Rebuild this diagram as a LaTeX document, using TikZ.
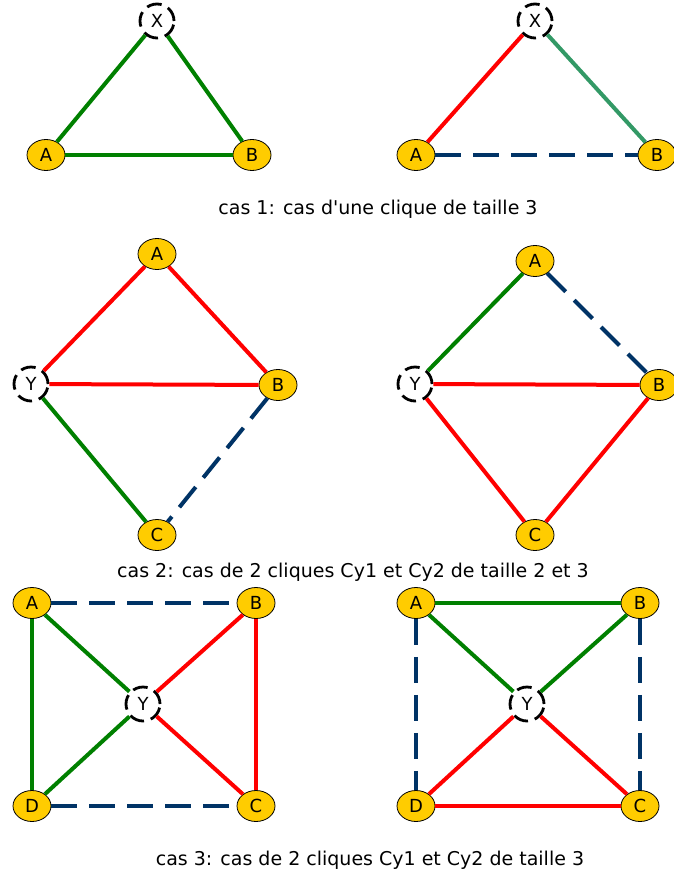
\documentclass[tikz,border=0pt]{standalone}
\usepackage{fontspec}
\setmainfont{DejaVu Sans}
\usepackage{tikz}
\usetikzlibrary{shapes.geometric}

\definecolor{or}{HTML}{FFCC00}
\definecolor{marine}{HTML}{003366}
\definecolor{vertmer}{HTML}{339966}
\definecolor{vertfonce}{HTML}{008000}

\begin{document}
\begin{tikzpicture}[
  x=1pt, y=-1pt,
  sommet/.style={ellipse, draw=black, fill=or, thick, minimum width=38pt, minimum height=31pt, inner sep=0pt, font=\fontsize{18}{18}\selectfont},
  centre/.style={ellipse, draw=black, fill=white, line width=2.8pt, dash pattern=on 15pt off 7pt, minimum width=34pt, minimum height=34pt, inner sep=0pt, font=\fontsize{18}{18}\selectfont},
  legende/.style={font=\fontsize{19}{19}\selectfont},
  rouge/.style={draw=red, line width=4pt},
  vert/.style={draw=vertfonce, line width=4pt},
  vertclair/.style={draw=vertmer, line width=4pt},
  bleu/.style={draw=marine, line width=4pt, dash pattern=on 26pt off 12pt}
]
\useasboundingbox (0,0) rectangle (673,873);

% cas 1
\node[centre] (x1) at (157,21) {X};
\node[sommet] (a1) at (46,155) {A};
\node[sommet] (b1) at (252,155) {B};
\draw[vert] (x1) -- (a1);
\draw[vert] (x1) -- (b1);
\draw[vert] (a1) -- (b1);

\node[centre] (x2) at (535,21) {X};
\node[sommet] (a2) at (416,155) {A};
\node[sommet] (b2) at (657,155) {B};
\draw[rouge] (x2) -- (a2);
\draw[vertclair] (x2) -- (b2);
\draw[bleu] (a2) -- (b2);

\node[legende] (cas1) at (378,209) {cas 1: cas d\textquotesingle une clique de taille 3};

% cas 2
\node[sommet] (a3) at (157,254) {A};
\node[centre] (y3) at (31,384) {Y};
\node[sommet] (b3) at (278,385) {B};
\node[sommet] (c3) at (157,535) {C};
\draw[rouge] (a3) -- (y3);
\draw[rouge] (a3) -- (b3);
\draw[rouge] (y3) -- (b3);
\draw[vert] (y3) -- (c3);
\draw[bleu] (b3) -- (c3);

\node[sommet] (a4) at (535,261) {A};
\node[centre] (y4) at (415,384) {Y};
\node[sommet] (b4) at (659,385) {B};
\node[sommet] (c4) at (535,535) {C};
\draw[vert] (a4) -- (y4);
\draw[bleu] (a4) -- (b4);
\draw[rouge] (y4) -- (b4);
\draw[rouge] (y4) -- (c4);
\draw[rouge] (b4) -- (c4);

\node[legende] (cas2) at (353,572) {cas 2: cas de 2 cliques Cy1 et Cy2 de taille 2 et 3};

% cas 3
\node[sommet] (a5) at (32,603) {A};
\node[sommet] (b5) at (256,603) {B};
\node[centre] (y5) at (143,704) {Y};
\node[sommet] (d5) at (32,806) {D};
\node[sommet] (c5) at (256,806) {C};
\draw[bleu] (a5) -- (b5);
\draw[vert] (a5) -- (d5);
\draw[vert] (a5) -- (y5);
\draw[rouge] (b5) -- (y5);
\draw[rouge] (b5) -- (c5);
\draw[vert] (y5) -- (d5);
\draw[rouge] (y5) -- (c5);
\draw[bleu] (d5) -- (c5);

\node[sommet] (a6) at (416,603) {A};
\node[sommet] (b6) at (640,603) {B};
\node[centre] (y6) at (527,704) {Y};
\node[sommet] (d6) at (416,806) {D};
\node[sommet] (c6) at (640,806) {C};
\draw[vert] (a6) -- (b6);
\draw[bleu] (a6) -- (d6);
\draw[vert] (a6) -- (y6);
\draw[vert] (b6) -- (y6);
\draw[bleu] (b6) -- (c6);
\draw[rouge] (y6) -- (d6);
\draw[rouge] (y6) -- (c6);
\draw[rouge] (d6) -- (c6);

\node[legende] (cas3) at (370,860) {cas 3: cas de 2 cliques Cy1 et Cy2 de taille 3};
\end{tikzpicture}
\end{document}
